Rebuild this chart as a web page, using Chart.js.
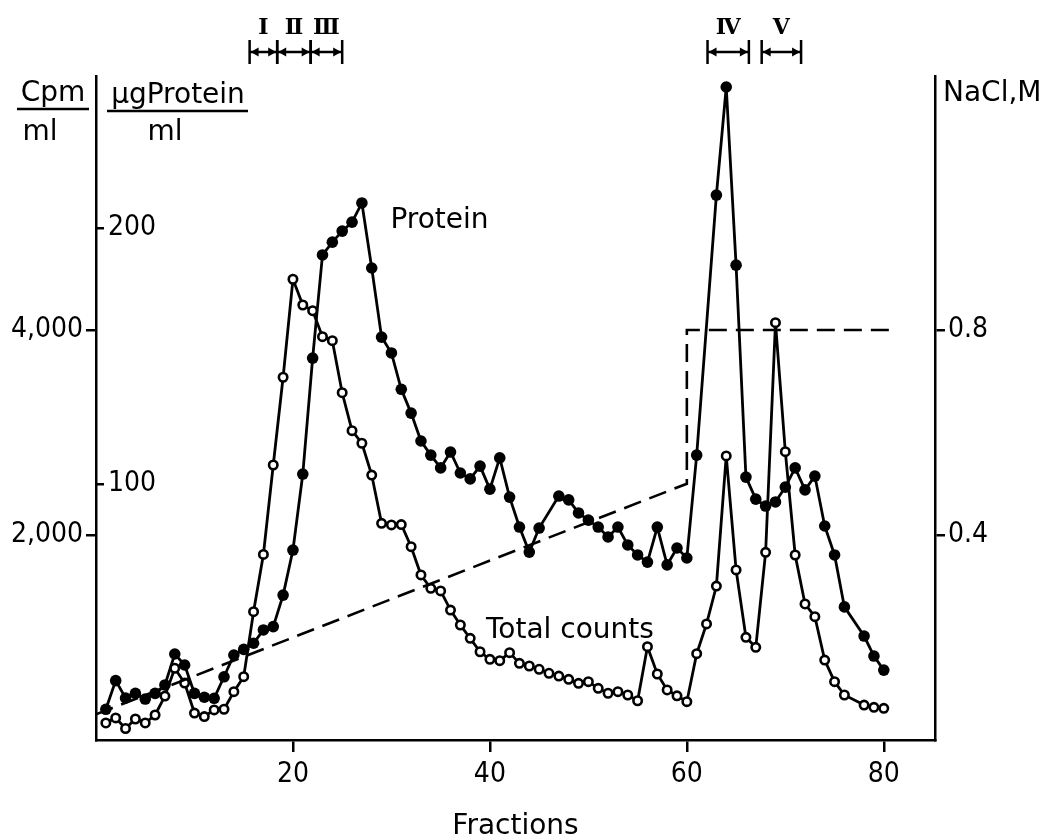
<!DOCTYPE html>
<html>
<head>
<meta charset="utf-8">
<title>Fractions</title>
<script src="https://cdn.jsdelivr.net/npm/chart.js@4.4.1/dist/chart.umd.min.js"></script>
<style>
  html, body { margin: 0; padding: 0; background: #fff; }
  canvas { display: block; }
</style>
</head>
<body>
<canvas id="chart" width="1055" height="840"></canvas>
<script>
// fraction numbers 1..80, null = no point plotted for that fraction
const fractions = Array.from({ length: 80 }, (_, i) => i + 1);

// µg protein / ml (filled circles)
const protein = [
    12.0, 23.2, 16.4, 18.2, 16.0, 18.2, 21.5, 33.6, 29.3, 18.2,
    16.7, 16.3, 24.7, 33.2, 35.4, 37.8, 43.0, 44.3, 56.6, 74.2,
    103.9, 149.2, 189.5, 194.5, 198.8, 202.3, 209.8, 184.4, 157.4, 151.2,
    137.0, 127.7, 116.8, 111.3, 106.3, 112.5, 104.3, 102.0, 107.0, 98.0,
    110.2, 94.9, 83.2, 73.4, 82.8, null, 95.3, 93.8, 88.7, 85.9,
    83.2, 79.3, 83.2, 76.2, 72.3, 69.5, 83.2, 68.4, 75.0, 71.1,
    111.3, null, 212.9, 255.1, 185.5, 102.7, 94.1, 91.4, 93.0, 98.8,
    106.3, 97.7, 103.1, 83.6, 72.3, 52.0, null, 40.6, 32.8, 27.3,
];

// total counts, cpm / ml (open circles)
const totalCounts = [
    166, 215, 112, 205, 166, 244, 429, 700, 556, 263,
    229, 293, 300, 471, 618, 1252, 1810, 2683, 3539, 4495,
    4244, 4188, 3935, 3896, 3388, 3018, 2895, 2585, 2114, 2098,
    2102, 1886, 1610, 1480, 1454, 1268, 1122, 992, 861, 787,
    774, 852, 748, 722, 690, 651, 624, 592, 553, 569,
    504, 456, 471, 439, 383, 910, 644, 488, 431, 374,
    842, 1132, 1502, 2771, 1659, 1002, 904, 1831, 4071, 2813,
    1805, 1327, 1203, 780, 569, 439, null, 341, 319, 309,
];

// NaCl gradient, then step to 0.8 M
const naclFractions = [0, 60, 60, 81];
const naclMolar = [0.05, 0.5, 0.8, 0.8];

const fractionTicks = [20, 40, 60, 80];
const cpmTicks = [2000, 4000];
const proteinTicks = [100, 200];
const naclTicks = [0.4, 0.8];

// pooled fractions
const pools = ['Ⅰ', 'Ⅱ', 'Ⅲ', 'Ⅳ', 'Ⅴ'];
const poolFrom = [15.6, 18.4, 21.8, 62.1, 67.6];
const poolTo = [18.4, 21.8, 25.0, 66.3, 71.6];

const INK = '#000';
const TEXT = '28px "DejaVu Sans", sans-serif';
const tickFont = { family: '"DejaVu Sans Condensed", "DejaVu Sans", sans-serif', size: 28 };

const pairs = (xs, ys) => xs.map((x, i) => ({ x, y: ys[i] }));
const fixTicks = (list) => (scale) => { scale.ticks = list.map((value) => ({ value })); };

const annotate = {
    id: 'annotate',
    afterDraw(chart) {
        const { ctx, scales } = chart;
        const x = scales.x;
        ctx.save();
        ctx.fillStyle = INK;
        ctx.strokeStyle = INK;
        ctx.lineWidth = 2.5;
        ctx.font = TEXT;
        ctx.textBaseline = 'alphabetic';

        // axis units
        ctx.textAlign = 'center';
        ctx.fillText('Cpm', 53, 101);
        ctx.fillText('ml', 40, 140);
        ctx.fillText('µgProtein', 178, 103);
        ctx.fillText('ml', 165, 140);
        ctx.beginPath();
        ctx.moveTo(17, 109); ctx.lineTo(89, 109);
        ctx.moveTo(107, 111); ctx.lineTo(248, 111);
        ctx.stroke();
        ctx.textAlign = 'left';
        ctx.fillText('NaCl,M', 943, 101);

        // series labels
        ctx.fillText('Protein', x.getPixelForValue(29.9), scales.yP.getPixelForValue(200));
        ctx.fillText('Total counts', x.getPixelForValue(39.6), scales.yC.getPixelForValue(995));

        // pool brackets
        const lineY = 52, barTop = 40, barBot = 64;
        ctx.font = 'bold 22px "DejaVu Serif", serif';
        ctx.textAlign = 'center';
        pools.forEach((name, i) => {
            const a = x.getPixelForValue(poolFrom[i]);
            const b = x.getPixelForValue(poolTo[i]);
            ctx.beginPath();
            ctx.moveTo(a, barTop); ctx.lineTo(a, barBot);
            ctx.moveTo(b, barTop); ctx.lineTo(b, barBot);
            ctx.moveTo(a, lineY); ctx.lineTo(b, lineY);
            ctx.stroke();
            ctx.beginPath();
            ctx.moveTo(a + 1, lineY); ctx.lineTo(a + 9, lineY - 4.5); ctx.lineTo(a + 9, lineY + 4.5);
            ctx.closePath();
            ctx.moveTo(b - 1, lineY); ctx.lineTo(b - 9, lineY - 4.5); ctx.lineTo(b - 9, lineY + 4.5);
            ctx.closePath();
            ctx.fill();
            ctx.fillText(name, (a + b) / 2, 34);
        });
        ctx.restore();
    },
};

new Chart(document.getElementById('chart'), {
    type: 'line',
    data: {
        datasets: [
            {
                label: 'NaCl',
                data: pairs(naclFractions, naclMolar),
                yAxisID: 'yN',
                borderColor: INK,
                borderWidth: 2.6,
                borderDash: [18, 9],
                pointRadius: 0,
                tension: 0,
            },
            {
                label: 'Total counts',
                data: pairs(fractions, totalCounts),
                yAxisID: 'yC',
                spanGaps: true,
                borderColor: INK,
                borderWidth: 2.8,
                pointRadius: 4.2,
                pointBorderWidth: 2.6,
                pointBackgroundColor: '#fff',
                pointBorderColor: INK,
                tension: 0,
            },
            {
                label: 'Protein',
                data: pairs(fractions, protein),
                yAxisID: 'yP',
                spanGaps: true,
                borderColor: INK,
                borderWidth: 2.8,
                pointRadius: 5.8,
                pointBorderWidth: 0,
                pointBackgroundColor: INK,
                tension: 0,
            },
        ],
    },
    options: {
        responsive: false,
        animation: false,
        events: [],
        layout: { padding: { top: 76, left: 0, right: 0, bottom: 0 } },
        plugins: { legend: { display: false }, tooltip: { enabled: false } },
        scales: {
            x: {
                type: 'linear',
                min: 0,
                max: 85.2,
                afterBuildTicks: fixTicks(fractionTicks),
                afterFit: (s) => { s.height = 100; },
                ticks: { font: tickFont, color: INK, padding: 6, maxRotation: 0, autoSkip: false },
                grid: { drawOnChartArea: false, tickLength: 12, color: INK, lineWidth: 2.5 },
                border: { color: INK, width: 2.5 },
                title: {
                    display: true,
                    text: 'Fractions',
                    font: { family: '"DejaVu Sans", sans-serif', size: 28 },
                    color: INK,
                    padding: { top: 0, bottom: -4 },
                },
            },
            yC: {
                type: 'linear',
                position: 'left',
                weight: 2,
                min: 0,
                max: 6478,
                afterBuildTicks: fixTicks(cpmTicks),
                afterFit: (s) => { s.width = 96; },
                ticks: {
                    font: tickFont,
                    color: INK,
                    padding: 3,
                    callback: (v) => v.toLocaleString('en-US'),
                },
                grid: { drawOnChartArea: false, tickLength: 10, color: INK, lineWidth: 2.5 },
                border: { color: INK, width: 2.5 },
            },
            yP: {
                type: 'linear',
                position: 'left',
                weight: 1,
                min: 0,
                max: 259.4,
                afterBuildTicks: fixTicks(proteinTicks),
                afterFit: (s) => { s.width = 0; },
                ticks: { font: tickFont, color: INK, mirror: true, padding: 12 },
                grid: { drawOnChartArea: false, tickLength: -8, color: INK, lineWidth: 2.5 },
                border: { display: false },
            },
            yN: {
                type: 'linear',
                position: 'right',
                min: 0,
                max: 1.2956,
                afterBuildTicks: fixTicks(naclTicks),
                afterFit: (s) => { s.width = 120; },
                ticks: {
                    font: tickFont,
                    color: INK,
                    padding: 3,
                    callback: (v) => v.toFixed(1),
                },
                grid: { drawOnChartArea: false, tickLength: 10, color: INK, lineWidth: 2.5 },
                border: { color: INK, width: 2.5 },
            },
        },
    },
    plugins: [annotate],
});
</script>
</body>
</html>
